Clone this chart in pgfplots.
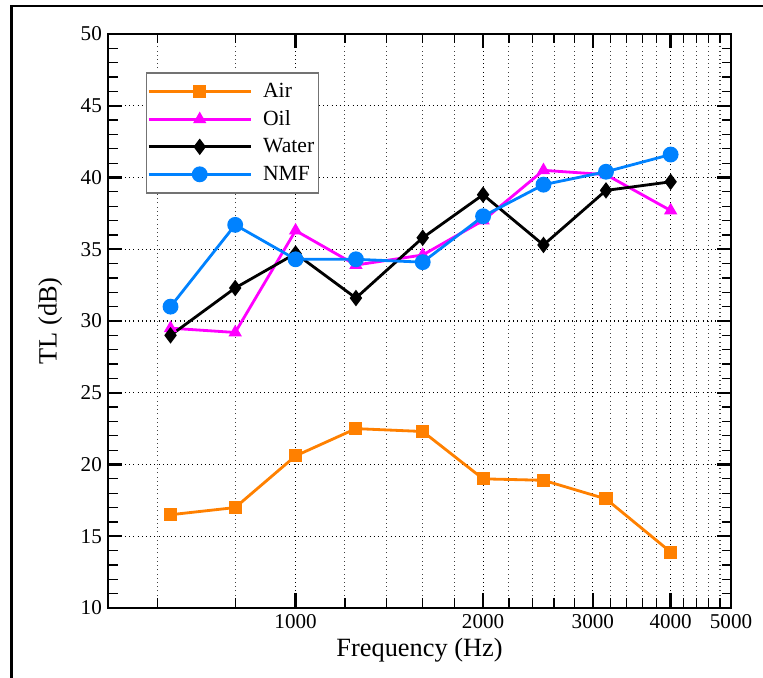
\documentclass[border=0pt]{standalone}
\usepackage{pgfplots}
\pgfplotsset{compat=1.18}
\usepackage{fontspec}
\setmainfont{Liberation Serif}

\definecolor{airc}{RGB}{255,128,0}
\definecolor{oilc}{RGB}{255,0,255}
\definecolor{nmfc}{RGB}{0,130,255}

\begin{document}
\begin{tikzpicture}
\begin{axis}[
    width=12.46cm,
    height=11.48cm,
    scale only axis,
    xmode=log,
    xmin=500, xmax=5000,
    ymin=10, ymax=50,
    xtick={1000,2000,3000,4000,5000},
    xticklabels={1000,2000,3000,4000,5000},
    minor xtick={600,800,1200,1400,1600,1800,2200,2400,2600,2800,3200,3400,3600,3800,4200,4400,4600,4800},
    ytick={10,15,...,50},
    minor y tick num=4,
    xmajorgrids, xminorgrids, ymajorgrids,
    major grid style={black, dotted, line width=0.6pt},
    minor grid style={black!75, dotted, line width=0.6pt},
    axis line style={line width=1.4pt},
    major tick style={line width=1.4pt, black},
    minor tick style={line width=0.7pt, black},
    major tick length=0.29cm,
    minor tick length=0.19cm,
    tick align=inside,
    /pgf/number format/assume math mode=true,
    tick label style={font=\fontsize{12}{14}\selectfont},
    xlabel={Frequency (Hz)},
    ylabel={TL (dB)},
    label style={font=\fontsize{15}{18}\selectfont},
    xlabel style={yshift=0.05cm},
    ylabel shift=0.13cm,
    legend cell align=left,
    legend image code/.code={\draw[mark repeat=2, mark phase=2, #1] plot coordinates {(0cm,0cm) (1.02cm,0cm) (2.04cm,0cm)};},
    legend style={at={(0.0605,0.933)}, anchor=north west, draw=black!55, line width=0.7pt,
        font=\fontsize{12.3}{14}\selectfont, inner xsep=0.02cm, inner ysep=0.1cm,
        column sep=0.16cm,
        nodes={inner sep=0.06cm, text height=0.33cm, text depth=0.1cm}},
]
\addplot[airc, line width=1.6pt, mark=square*, mark size=2.9pt, mark options={solid}] coordinates {
(630,16.5) (800,17.0) (1000,20.6) (1250,22.5) (1600,22.3) (2000,19.0) (2500,18.9) (3150,17.6) (4000,13.9)};
\addlegendentry{Air}
\addplot[oilc, line width=1.6pt, mark=triangle*, mark size=2.8pt] coordinates {
(630,29.5) (800,29.2) (1000,36.3) (1250,33.9) (1600,34.6) (2000,37.0) (2500,40.5) (3150,40.2) (4000,37.7)};
\addlegendentry{Oil}
\addplot[black, line width=1.6pt, mark=diamond*, mark size=3.4pt] coordinates {
(630,29.0) (800,32.3) (1000,34.7) (1250,31.6) (1600,35.8) (2000,38.8) (2500,35.3) (3150,39.1) (4000,39.7)};
\addlegendentry{Water}
\addplot[nmfc, line width=1.6pt, mark=*, mark size=3.7pt] coordinates {
(630,31.0) (800,36.7) (1000,34.3) (1250,34.3) (1600,34.1) (2000,37.3) (2500,39.5) (3150,40.4) (4000,41.6)};
\addlegendentry{NMF}
\coordinate (sw) at (rel axis cs:0,0);
\coordinate (ne) at (rel axis cs:1,1);
\end{axis}
\pgfresetboundingbox
\path[use as bounding box] ([shift={(-2.16cm,-1.4cm)}]sw) rectangle ([shift={(0.64cm,0.68cm)}]ne);
\draw[line width=0.05cm] ([shift={(-1.926cm,-3cm)}]sw) |- ([shift={(3cm,0.56cm)}]ne);
\end{tikzpicture}
\end{document}
